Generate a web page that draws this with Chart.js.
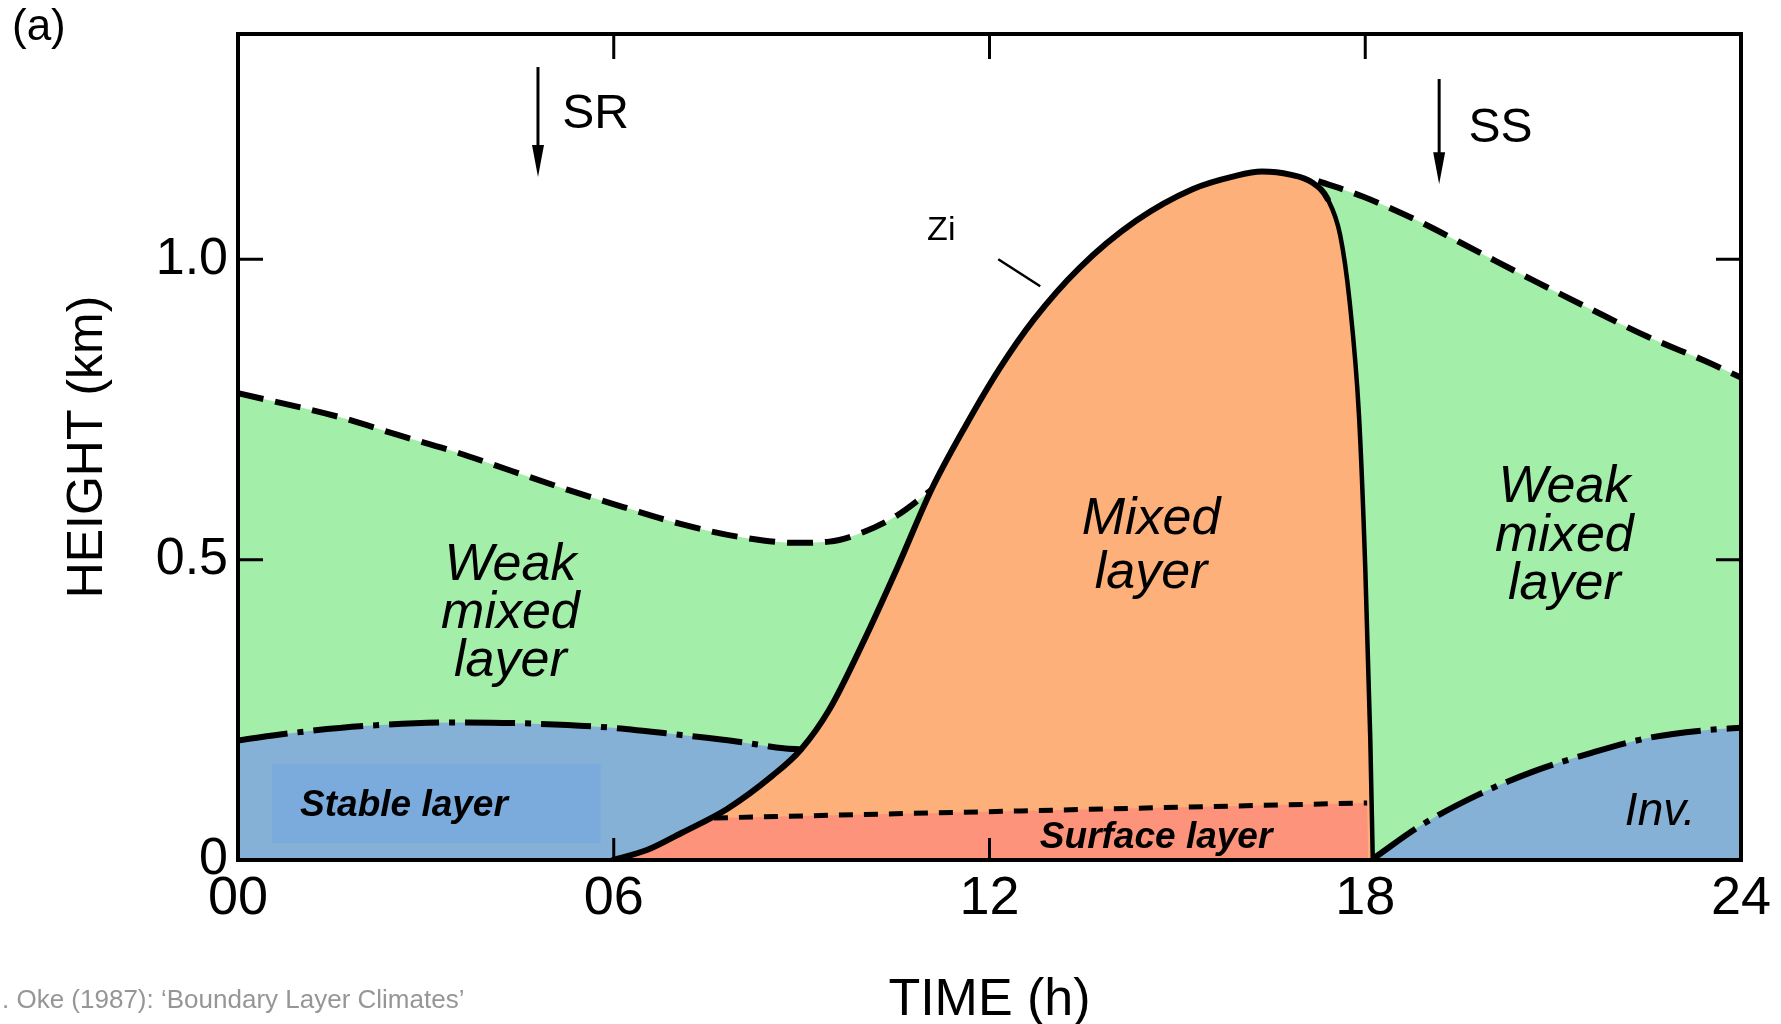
<!DOCTYPE html>
<html>
<head>
<meta charset="utf-8">
<title>Boundary layer - diurnal evolution</title>
<script src="https://cdn.jsdelivr.net/npm/chart.js@4.4.1/dist/chart.umd.min.js"></script>
<style>
  html, body { margin: 0; padding: 0; background: #fff; }
  #wrap { position: relative; width: 1781px; height: 1024px; }
</style>
</head>
<body>
<div id="wrap"><canvas id="chart"></canvas></div>
<script>
// Heights (km) against time of day (h)

// top of the weak mixed (residual) layer, before Zi catches it
const residualLeftHour = [0, 1.63, 2.54, 3.45, 4.36, 5.27, 6.17, 7.08, 7.99, 8.9, 9.44, 9.99, 10.53, 11.11];
const residualLeftKm   = [0.777, 0.737, 0.708, 0.68, 0.648, 0.616, 0.587, 0.559, 0.538, 0.528, 0.53, 0.546, 0.574, 0.619];

// top of the weak mixed layer after the collapse
const residualRightHour = [17.25, 17.97, 18.88, 19.79, 20.7, 21.6, 22.51, 23.42, 24];
const residualRightKm   = [1.13, 1.104, 1.062, 1.013, 0.964, 0.917, 0.871, 0.831, 0.803];

// top of the night-time stable layer
const stableLeftHour = [0, 0.91, 2.0, 3.45, 4.72, 5.99, 7.08, 7.99, 8.71, 8.99];
const stableLeftKm   = [0.199, 0.212, 0.223, 0.229, 0.227, 0.22, 0.208, 0.197, 0.186, 0.184];

// growth of the evening inversion
const stableRightHour = [18.15, 18.88, 19.79, 20.7, 21.6, 22.51, 23.42, 24];
const stableRightKm   = [0.004, 0.057, 0.108, 0.148, 0.178, 0.203, 0.216, 0.22];

// Zi, top of the convective mixed layer
const ziHour = [5.99, 6.54, 7.08, 7.81, 8.53, 8.99, 9.44, 9.99, 10.53, 11.07, 11.62, 12.16, 12.71, 13.43, 14.34, 15.25, 15.9, 16.35, 16.8, 17.15, 17.4, 17.6, 17.75, 17.9, 18.0, 18.08, 18.12];
const ziKm   = [0, 0.017, 0.045, 0.085, 0.14, 0.184, 0.25, 0.364, 0.487, 0.616, 0.723, 0.818, 0.9, 0.985, 1.064, 1.117, 1.138, 1.146, 1.141, 1.128, 1.1, 1.04, 0.93, 0.74, 0.487, 0.203, 0];

// surface layer: follows Zi at first, then its own top
const surfaceHour = [5.99, 6.54, 7.08, 7.6, 18.03, 18.05];
const surfaceKm   = [0, 0.017, 0.045, 0.07, 0.095, 0];
const surfaceTopHour = [7.6, 18.03];
const surfaceTopKm   = [0.07, 0.095];

const hourTicks = [0, 6, 12, 18, 24];
const kmTicks = [0, 0.5, 1.0];
const sunrise = 4.79;
const sunset = 19.18;

const GREEN = 'rgb(163,238,168)';
const BLUE = 'rgb(134,177,214)';
const ORANGE = 'rgb(253,176,121)';
const SALMON = 'rgb(253,147,122)';
const FONT = '"Liberation Sans", Arial, sans-serif';

function pts(xs, ys) {
    return xs.map(function(x, i) { return {x: x, y: ys[i]}; });
}

// text labels placed in data units
const labels = [
    {lines: ['Weak', 'mixed', 'layer'], x: 4.35, y: 0.49, step: 0.08, font: 'italic 52px'},
    {lines: ['Mixed', 'layer'], x: 14.58, y: 0.567, step: 0.09, font: 'italic 52px'},
    {lines: ['Weak', 'mixed', 'layer'], x: 21.18, y: 0.62, step: 0.081, font: 'italic 52px'},
    {lines: ['Stable layer'], x: 2.65, y: 0.09, step: 0, font: 'italic bold 37px'},
    {lines: ['Surface layer'], x: 14.66, y: 0.037, step: 0, font: 'italic bold 37px'},
    {lines: ['Inv.'], x: 22.71, y: 0.08, step: 0, font: 'italic 46px'},
    {lines: ['Zi'], x: 11.23, y: 1.047, step: 0, font: '34px'},
    {lines: ['SR'], x: 5.71, y: 1.24, step: 0, font: '48px'},
    {lines: ['SS'], x: 20.16, y: 1.218, step: 0, font: '48px'}
];

function arrow(ctx, x, y0, y1) {
    ctx.beginPath();
    ctx.moveTo(x, y0);
    ctx.lineTo(x, y1 - 20);
    ctx.stroke();
    ctx.beginPath();
    ctx.moveTo(x - 6, y1 - 32);
    ctx.lineTo(x + 6, y1 - 32);
    ctx.lineTo(x, y1);
    ctx.closePath();
    ctx.fill();
}

const decor = {
    id: 'decor',
    afterDatasetsDraw(chart) {
        const ctx = chart.ctx;
        const a = chart.chartArea;
        const x = chart.scales.x, y = chart.scales.y;
        ctx.save();

        // box behind "Stable layer"
        ctx.fillStyle = 'rgb(122,171,220)';
        const bx0 = x.getPixelForValue(0.54), bx1 = x.getPixelForValue(5.79);
        const by0 = y.getPixelForValue(0.16), by1 = y.getPixelForValue(0.028);
        ctx.fillRect(bx0, by0, bx1 - bx0, by1 - by0);

        ctx.fillStyle = '#000';
        ctx.textAlign = 'center';
        ctx.textBaseline = 'middle';
        labels.forEach(function(l) {
            ctx.font = l.font + ' ' + FONT;
            l.lines.forEach(function(t, i) {
                ctx.fillText(t, x.getPixelForValue(l.x), y.getPixelForValue(l.y - i * l.step));
            });
        });

        // Zi pointer
        ctx.strokeStyle = '#000';
        ctx.lineWidth = 2.5;
        ctx.beginPath();
        ctx.moveTo(x.getPixelForValue(12.14), y.getPixelForValue(1.0));
        ctx.lineTo(x.getPixelForValue(12.81), y.getPixelForValue(0.955));
        ctx.stroke();

        // sunrise / sunset arrows
        ctx.lineWidth = 3;
        arrow(ctx, x.getPixelForValue(sunrise), y.getPixelForValue(1.32), y.getPixelForValue(1.137));
        arrow(ctx, x.getPixelForValue(sunset), y.getPixelForValue(1.30), y.getPixelForValue(1.125));

        // frame and inward ticks
        ctx.lineWidth = 4;
        ctx.strokeRect(a.left, a.top, a.right - a.left, a.bottom - a.top);
        ctx.lineWidth = 3;
        const len = 25;
        ctx.beginPath();
        [6, 12, 18].forEach(function(h) {
            const px = x.getPixelForValue(h);
            ctx.moveTo(px, a.top); ctx.lineTo(px, a.top + len);
        });
        [6, 12].forEach(function(h) {
            const px = x.getPixelForValue(h);
            ctx.moveTo(px, a.bottom); ctx.lineTo(px, a.bottom - 22);
        });
        [0.5, 1.0].forEach(function(v) {
            const py = y.getPixelForValue(v);
            ctx.moveTo(a.left, py); ctx.lineTo(a.left + len, py);
            ctx.moveTo(a.right, py); ctx.lineTo(a.right - len, py);
        });
        ctx.stroke();
        ctx.restore();
    },
    afterDraw(chart) {
        const ctx = chart.ctx;
        ctx.save();
        ctx.fillStyle = '#000';
        ctx.font = '44px ' + FONT;
        ctx.textAlign = 'left';
        ctx.textBaseline = 'middle';
        ctx.fillText('(a)', 12, 28);
        ctx.fillStyle = 'rgb(150,150,150)';
        ctx.font = '26px ' + FONT;
        ctx.fillText('. Oke (1987): \u2018Boundary Layer Climates\u2019', 2, 1001);
        ctx.restore();
    }
};

function area(data, color, dash, order) {
    return {
        data: data,
        borderColor: '#000',
        borderWidth: dash ? 6 : 0,
        borderDash: dash || [],
        backgroundColor: color,
        fill: color ? 'origin' : false,
        pointRadius: 0,
        cubicInterpolationMode: 'monotone',
        order: order
    };
}

const datasets = [
    area(pts(residualLeftHour, residualLeftKm), GREEN, [26, 12], 10),
    area(pts(residualRightHour, residualRightKm), GREEN, [26, 12], 9),
    area(pts(stableLeftHour, stableLeftKm), BLUE, [50, 10, 6, 10], 8),
    area(pts(stableRightHour, stableRightKm), BLUE, [50, 10, 6, 10], 7),
    Object.assign(area(pts(ziHour, ziKm), ORANGE, null, 6), {borderWidth: 0}),
    Object.assign(area(pts(surfaceHour, surfaceKm), SALMON, null, 5), {borderWidth: 0, cubicInterpolationMode: 'default', tension: 0}),
    Object.assign(area(pts(surfaceTopHour, surfaceTopKm), null, [14, 11], 4), {borderWidth: 5, tension: 0}),
    Object.assign(area(pts(ziHour, ziKm), null, null, 3), {
        borderWidth: 6,
        borderJoinStyle: 'round',
        borderCapStyle: 'round',
        segment: {
            borderWidth: function(c) { return c.p0.parsed.x >= 17.4 ? 4.5 : 6; }
        }
    })
];

new Chart(document.getElementById('chart'), {
    type: 'line',
    data: {datasets: datasets},
    options: {
        responsive: true,
        maintainAspectRatio: false,
        animation: false,
        layout: {padding: {top: 34, right: 40, left: 0, bottom: 0}},
        plugins: {
            legend: {display: false},
            tooltip: {enabled: false},
            filler: {propagate: false}
        },
        scales: {
            x: {
                type: 'linear',
                min: 0,
                max: 24,
                afterBuildTicks: function(s) { s.ticks = hourTicks.map(function(v) { return {value: v}; }); },
                afterFit: function(s) { s.height = 164; },
                grid: {display: false},
                border: {display: false},
                ticks: {
                    color: '#000',
                    padding: -1,
                    maxRotation: 0,
                    font: {family: FONT, size: 54},
                    callback: function(v) { return String(v).padStart(2, '0'); }
                },
                title: {
                    display: true,
                    text: 'TIME (h)',
                    color: '#000',
                    font: {family: FONT, size: 52, lineHeight: 0.8},
                    padding: {top: 0, bottom: 3}
                }
            },
            y: {
                type: 'linear',
                min: 0,
                max: 1.375,
                afterBuildTicks: function(s) { s.ticks = kmTicks.map(function(v) { return {value: v}; }); },
                afterFit: function(s) { s.width = 238; },
                grid: {display: false},
                border: {display: false},
                ticks: {
                    color: '#000',
                    padding: 2,
                    font: {family: FONT, size: 52},
                    callback: function(v) { return v === 0 ? '0' : v.toFixed(1); }
                },
                title: {
                    display: true,
                    text: 'HEIGHT (km)',
                    color: '#000',
                    font: {family: FONT, size: 50},
                    padding: {top: 58, bottom: 0}
                }
            }
        }
    },
    plugins: [decor]
});
</script>
</body>
</html>
